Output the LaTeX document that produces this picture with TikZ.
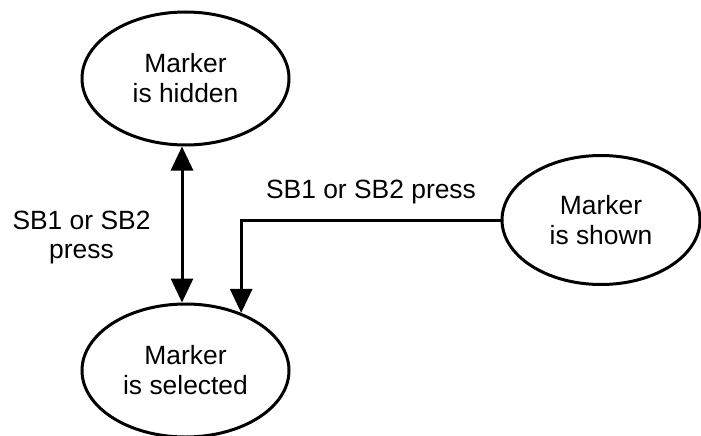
\documentclass[tikz,border=0pt]{standalone}
\usepackage{fontspec}
\setmainfont{Liberation Sans}
\usetikzlibrary{shapes.geometric,arrows.meta}
\begin{document}
\begin{tikzpicture}[x=1pt,y=-1pt,
  state/.style={ellipse,draw,line width=3pt,minimum width=207pt,minimum height=133pt,inner sep=0pt,align=center,font=\fontsize{26.4}{30}\selectfont},
  lbl/.style={align=center,font=\fontsize{26.4}{29}\selectfont,inner sep=0pt},
  tip/.tip={Triangle[length=24pt,width=22pt]},
  conn/.style={line width=3pt,-tip},
  dconn/.style={line width=3pt,tip-tip},
]
\useasboundingbox (0,0) rectangle (701,436);
\node[state] (hid) at (185.5,78.5) {Marker\\is hidden};
\node[state] (sel) at (185.5,370.5) {Marker\\is selected};
\node[state,minimum width=198pt,minimum height=129pt] (shw) at (601,220) {Marker\\is shown};
\draw[dconn] ([xshift=-3.5pt]hid.south) -- ([xshift=-3.5pt]sel.north);
\draw[conn] (shw.west) -| (sel.46);
\node[lbl,anchor=base] (l1) at (371,198) {SB1 or SB2 press};
\node[lbl,anchor=base] (l2) at (81.5,258) {SB1 or SB2\\press};
\end{tikzpicture}
\end{document}
